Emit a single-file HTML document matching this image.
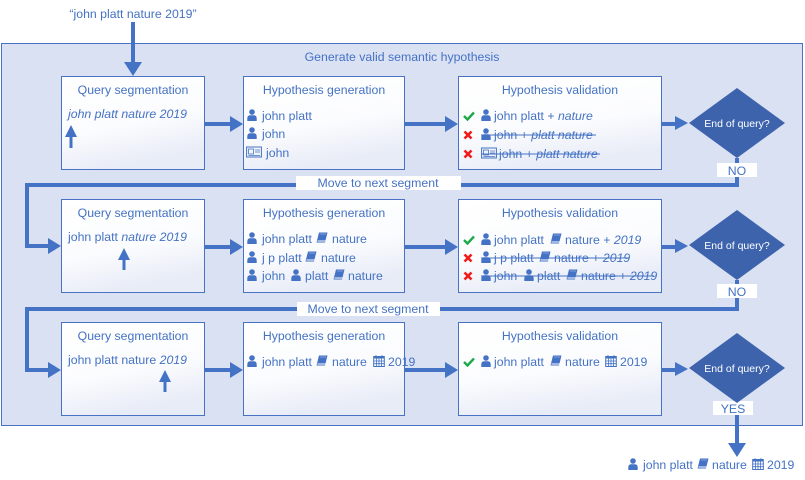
<!DOCTYPE html>
<html><head><meta charset="utf-8"><style>
html,body{margin:0;padding:0;background:#fff;}
svg{display:block;font-family:"Liberation Sans",sans-serif;}
text{fill:#4472c4;font-size:12.3px;}
.t{font-size:12.3px;}
.i{font-style:italic;}
.w{fill:#fff;font-size:10.5px;}
</style></head><body>
<svg width="805" height="480" viewBox="0 0 805 480" xmlns="http://www.w3.org/2000/svg">
<defs>
<linearGradient id="g" x1="0" y1="0" x2="0.3" y2="1"><stop offset="0" stop-color="#ffffff"/><stop offset="0.6" stop-color="#fbfcfe"/><stop offset="1" stop-color="#e8ecf7"/></linearGradient>
<symbol id="p" viewBox="0 0 10 12" width="10" height="12"><circle cx="5" cy="3" r="2.8" fill="#4472c4"/><path d="M0.3 12 V9.5 Q0.3 6.5 3 6.3 L7 6.3 Q9.7 6.5 9.7 9.5 V12 Z" fill="#4472c4"/></symbol>
<symbol id="b" viewBox="0 0 12 12" width="12" height="12"><path d="M3 0.5 L11.5 0.5 L9 10.5 L0.5 10.5 Z" fill="#4472c4"/><path d="M1.5 9 L9.5 9" stroke="#fff" stroke-width="1"/><path d="M4 2 L10 2" stroke="#8fa9e0" stroke-width="0.8"/></symbol>
<symbol id="c" viewBox="0 0 12 12" width="12" height="12"><rect x="0.7" y="1.5" width="10.6" height="10" fill="none" stroke="#4472c4" stroke-width="1"/><rect x="0.7" y="1.5" width="10.6" height="2" fill="#4472c4"/><path d="M3 0 V3 M9 0 V3 M0.7 6 H11.3 M0.7 8.7 H11.3 M3.4 3.5 V11.5 M6 3.5 V11.5 M8.6 3.5 V11.5" stroke="#4472c4" stroke-width="0.8"/></symbol>
<symbol id="d" viewBox="0 0 16 12" width="16" height="12"><rect x="0.6" y="1" width="14.8" height="10" fill="none" stroke="#4472c4" stroke-width="1"/><rect x="2.5" y="3" width="5" height="5" fill="none" stroke="#4472c4" stroke-width="0.8"/><path d="M9 4 H14 M9 6 H14 M2.5 9.5 H14" stroke="#4472c4" stroke-width="0.8"/></symbol>
<symbol id="k" viewBox="0 0 12 10" width="12" height="10"><path d="M1 5 L4.5 8.5 L11 1.5" fill="none" stroke="#1ea84a" stroke-width="2.4"/></symbol>
<symbol id="x" viewBox="0 0 10 10" width="10" height="10"><path d="M1.5 1.5 L8.5 8.5 M8.5 1.5 L1.5 8.5" stroke="#ee1c1c" stroke-width="2.6"/></symbol>
</defs>

<rect x="1.5" y="43.5" width="801" height="382" fill="#dae1f3" stroke="#4a72c4" stroke-width="1"/>
<text x="402" y="61" text-anchor="middle" class="t">Generate valid semantic hypothesis</text>

<text x="133" y="18" text-anchor="middle" class="t">“john platt nature 2019”</text>
<path d="M133 22 V64" stroke="#4472c4" stroke-width="4"/>
<path d="M124 62 L142 62 L133 76 Z" fill="#4472c4"/>

<g stroke="#4472c4" stroke-width="4" fill="none">
<path d="M737 158 V185 H27 V246 H50"/>
<path d="M737 280 V309 H27 V370 H50"/>
<path d="M737 415 V445"/>
<path d="M205 124 H232 M405 124 H446 M662 124 H676"/>
<path d="M205 247 H232 M405 247 H446 M662 247 H676"/>
<path d="M205 370 H232 M405 370 H446 M662 370 H676"/>
</g>
<g fill="#4472c4">
<path d="M48 238 L61 246 L48 254 Z"/><path d="M48 362 L61 370 L48 378 Z"/>
<path d="M230 116 L243 124 L230 132 Z"/><path d="M445 116 L458 124 L445 132 Z"/><path d="M675 116 L688 123 L675 130 Z"/>
<path d="M230 239 L243 247 L230 255 Z"/><path d="M445 239 L458 247 L445 255 Z"/><path d="M675 239 L688 246 L675 253 Z"/>
<path d="M230 362 L243 370 L230 378 Z"/><path d="M445 362 L458 370 L445 378 Z"/><path d="M675 362 L688 369 L675 376 Z"/>
<path d="M728 443 L746 443 L737 457 Z"/>
</g>

<rect x="296" y="176" width="165" height="14" fill="#fff"/><text x="378" y="187" text-anchor="middle">Move to next segment</text>
<rect x="297" y="302" width="143" height="14" fill="#fff"/><text x="368" y="313" text-anchor="middle">Move to next segment</text>
<rect x="717" y="163" width="40" height="14" fill="#fff"/><text x="737" y="175" text-anchor="middle">NO</text>
<rect x="717" y="284" width="40" height="14" fill="#fff"/><text x="737" y="296" text-anchor="middle">NO</text>
<rect x="713" y="401" width="40" height="14" fill="#fff"/><text x="733" y="413" text-anchor="middle">YES</text>

<g fill="#3e63ad">
<path d="M737 88 L785 123 L737 158 L689 123 Z"/>
<path d="M737 210 L785 245 L737 280 L689 245 Z"/>
<path d="M737 333 L785 368 L737 403 L689 368 Z"/>
</g>
<text x="737" y="127" text-anchor="middle" class="w">End of query?</text>
<text x="737" y="249" text-anchor="middle" class="w">End of query?</text>
<text x="737" y="372" text-anchor="middle" class="w">End of query?</text>

<g fill="url(#g)" stroke="#4a72c4" stroke-width="1">
<rect x="61.5" y="76.5" width="143" height="93"/><rect x="243.5" y="76.5" width="161" height="93"/><rect x="458.5" y="76.5" width="203" height="93"/>
<rect x="61.5" y="199.5" width="143" height="93"/><rect x="243.5" y="199.5" width="161" height="93"/><rect x="458.5" y="199.5" width="203" height="93"/>
<rect x="61.5" y="322.5" width="143" height="93"/><rect x="243.5" y="322.5" width="161" height="93"/><rect x="458.5" y="322.5" width="203" height="93"/>
</g>
<g text-anchor="middle">
<text x="133" y="94" class="t">Query segmentation</text><text x="324" y="94" class="t">Hypothesis generation</text><text x="560" y="94" class="t">Hypothesis validation</text>
<text x="133" y="217" class="t">Query segmentation</text><text x="324" y="217" class="t">Hypothesis generation</text><text x="560" y="217" class="t">Hypothesis validation</text>
<text x="133" y="340" class="t">Query segmentation</text><text x="324" y="340" class="t">Hypothesis generation</text><text x="560" y="340" class="t">Hypothesis validation</text>
</g>

<!-- up arrows in seg boxes -->
<g fill="#4472c4">
<path d="M71 148 V134" stroke="#4472c4" stroke-width="3"/><path d="M65 137 L71 125 L77 137 Z"/>
<path d="M124 270 V257" stroke="#4472c4" stroke-width="3"/><path d="M118 260 L124 248 L130 260 Z"/>
<path d="M165 392 V379" stroke="#4472c4" stroke-width="3"/><path d="M159 382 L165 370 L171 382 Z"/>
</g>

<!-- row1 -->
<text x="68" y="118" class="i">john platt nature 2019</text>
<use href="#p" x="247" y="109"/><text x="262" y="120">john platt</text>
<use href="#p" x="247" y="127"/><text x="262" y="138">john</text>
<use href="#d" x="246" y="146"/><text x="266" y="157">john</text>
<use href="#k" x="463" y="111"/><use href="#p" x="481" y="109"/><text x="494" y="120">john platt + <tspan class="i">nature</tspan></text>
<use href="#x" x="463" y="130"/><use href="#p" x="481" y="128"/><text x="494" y="139">john + <tspan class="i">platt nature</tspan></text>
<path d="M481 135 H596" stroke="#4472c4" stroke-width="1"/>
<use href="#x" x="463" y="149"/><use href="#d" x="481" y="147"/><text x="499" y="158">john + <tspan class="i">platt nature</tspan></text>
<path d="M481 154 H600" stroke="#4472c4" stroke-width="1"/>

<!-- row2 -->
<text x="68" y="241">john platt <tspan class="i">nature 2019</tspan></text>
<use href="#p" x="247" y="232"/><text x="262" y="243">john platt</text><use href="#b" x="316" y="232"/><text x="332" y="243">nature</text>
<use href="#p" x="247" y="251"/><text x="262" y="262">j p platt</text><use href="#b" x="305" y="251"/><text x="321" y="262">nature</text>
<use href="#p" x="247" y="269"/><text x="262" y="280">john</text><use href="#p" x="291" y="269"/><text x="305" y="280">platt</text><use href="#b" x="333" y="269"/><text x="348" y="280">nature</text>
<use href="#k" x="463" y="235"/><use href="#p" x="481" y="233"/><text x="494" y="244">john platt</text><use href="#b" x="550" y="233"/><text x="565" y="244">nature + <tspan class="i">2019</tspan></text>
<use href="#x" x="463" y="253"/><use href="#p" x="481" y="251"/><text x="494" y="262">j p platt</text><use href="#b" x="539" y="251"/><text x="554" y="262">nature + <tspan class="i">2019</tspan></text>
<path d="M481 258 H629" stroke="#4472c4" stroke-width="1"/>
<use href="#x" x="463" y="271"/><use href="#p" x="481" y="269"/><text x="494" y="280">john</text><use href="#p" x="524" y="269"/><text x="537" y="280">platt</text><use href="#b" x="566" y="269"/><text x="581" y="280">nature + <tspan class="i">2019</tspan></text>
<path d="M481 276 H654" stroke="#4472c4" stroke-width="1"/>

<!-- row3 -->
<text x="68" y="364">john platt nature <tspan class="i">2019</tspan></text>
<use href="#p" x="247" y="355"/><text x="262" y="366">john platt</text><use href="#b" x="316" y="355"/><text x="332" y="366">nature</text><use href="#c" x="373" y="355"/><text x="388" y="366">2019</text>
<use href="#k" x="463" y="357"/><use href="#p" x="481" y="355"/><text x="494" y="366">john platt</text><use href="#b" x="550" y="355"/><text x="565" y="366">nature</text><use href="#c" x="605" y="355"/><text x="620" y="366">2019</text>

<use href="#p" x="628" y="458"/><text x="643" y="469">john platt</text><use href="#b" x="697" y="458"/><text x="712" y="469">nature</text><use href="#c" x="752" y="458"/><text x="767" y="469">2019</text>
</svg>
</body></html>
